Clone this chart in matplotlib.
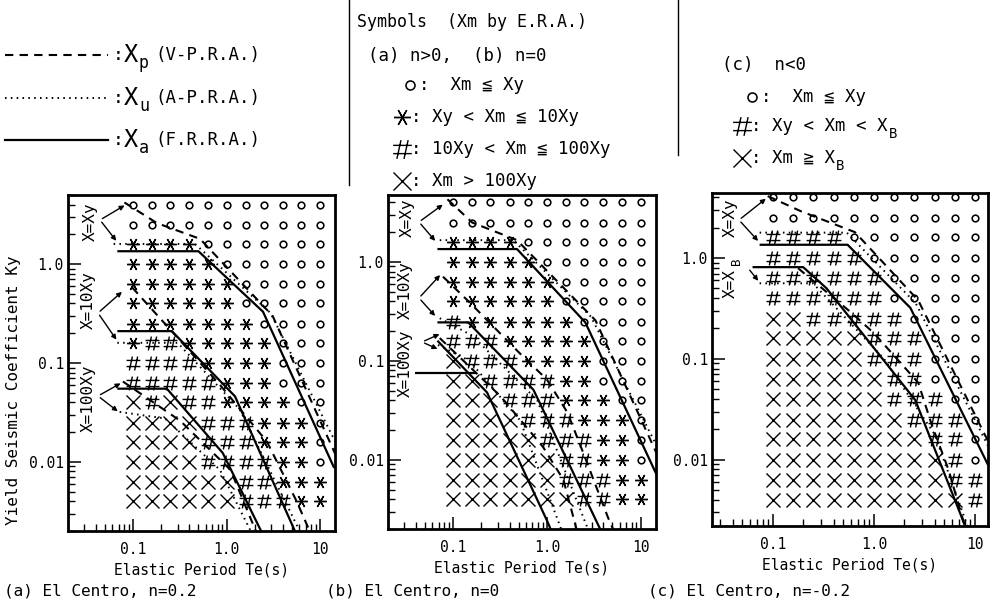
import matplotlib
matplotlib.use("Agg")
import matplotlib.pyplot as plt
from matplotlib.ticker import FixedLocator, FixedFormatter, LogLocator, NullFormatter
from matplotlib.lines import Line2D
from matplotlib.patches import FancyArrowPatch
from matplotlib.path import Path

plt.rcParams['font.family'] = ['DejaVu Sans Mono', 'DejaVu Sans', 'Noto Sans CJK JP']

W, H = 1004, 603

# ---------------- data ----------------
periods = [0.1, 0.16, 0.25, 0.4, 0.63, 1.0, 1.6, 2.5, 4.0, 6.3, 10.0]
ky_levels = [4.0, 2.5, 1.6, 1.0, 0.63, 0.4, 0.25, 0.16, 0.1, 0.063,
             0.04, 0.025, 0.016, 0.01, 0.0063, 0.004]

grid_a = ["ooooooooooo", "ooooooooooo", "****ooooooo", "*****oooooo",
          "******ooooo", "******ooooo", "*******oooo", "*##*****ooo",
          "####****ooo", "#####***ooo", "X#X##****oo", "XXXX###***o",
          "XXXX###***o", "XXXX####**o", "XXXXXX##***", "XXXXXX###**"]
grid_b = ["ooooooooooo", "ooooooooooo", "****ooooooo", "*****oooooo",
          "******ooooo", "******ooooo", "#******oooo", "###*****ooo",
          "X###****ooo", "XX####**ooo", "XXX###***oo", "XXXX###***o",
          "XXXXX###**o", "XXXXXX##**o", "XXXXXX###**", "XXXXXXX##**"]
grid_c = ["ooooooooooo", "ooooooooooo", "####ooooooo", "#####oooooo",
          "######ooooo", "######ooooo", "XX#####oooo", "XXXXX###ooo",
          "XXXXX###ooo", "XXXXXX##ooo", "XXXXXX###oo", "XXXXXXX###o",
          "XXXXXXXX##o", "XXXXXXXXX#o", "XXXXXXXXX##", "XXXXXXXXXX#"]

x_ticks = [0.1, 1.0, 10.0]
x_ticklabels = ['0.1', '1.0', '10']
y_ticks = [1.0, 0.1, 0.01]
y_ticklabels = ['1.0', '0.1', '0.01']

# boundary lines (Te, Ky); p = Xp dashed, u = Xu dotted, a = Xa solid
a_xa_y = [(0.068, 1.35), (0.50, 1.35), (2.45, 0.33), (14.1, 0.0087)]
a_xp_y = [(0.081, 4.2), (0.18, 2.6), (0.52, 1.8), (3.1, 0.30), (14.5, 0.012)]
a_xu_y = [(0.062, 1.6), (0.46, 1.6), (2.95, 0.32), (14.5, 0.016)]
a_xa_10 = [(0.068, 0.21), (0.26, 0.21), (1.23, 0.046), (5.5, 0.0019)]
a_xp_10 = [(0.098, 0.58), (0.30, 0.18), (0.85, 0.060), (2.7, 0.016), (5.6, 0.004), (8.1, 0.0018)]
a_xu_10 = [(0.068, 0.16), (0.30, 0.16), (1.38, 0.034), (6.2, 0.0019)]
a_xa_100 = [(0.068, 0.055), (0.23, 0.055), (0.91, 0.0123), (2.4, 0.0019)]
a_xp_100 = [(0.078, 0.065), (0.32, 0.026), (1.1, 0.0083), (2.1, 0.0019)]
a_xu_100 = [(0.072, 0.032), (0.22, 0.0275), (0.85, 0.0083), (1.86, 0.0019)]

b_xa_y = [(0.068, 1.35), (0.48, 1.35), (2.57, 0.245), (14.8, 0.0071)]
b_xp_y = [(0.087, 4.3), (0.16, 2.5), (0.48, 1.66), (3.3, 0.257), (15.1, 0.0112)]
b_xu_y = [(0.072, 1.66), (0.44, 1.66), (2.95, 0.28), (14.8, 0.014)]
b_xa_10 = [(0.068, 0.245), (0.145, 0.245), (0.72, 0.051), (3.8, 0.0019)]
b_xp_10 = [(0.078, 0.71), (0.15, 0.39), (0.56, 0.11), (1.0, 0.065), (1.66, 0.030),
           (2.45, 0.0117), (4.5, 0.0026), (5.2, 0.0019)]
b_xu_10 = [(0.072, 0.27), (0.16, 0.18), (0.79, 0.04), (2.8, 0.0019)]
b_xa_100 = [(0.068, 0.16), (0.23, 0.048), (1.0, 0.00245), (1.12, 0.0019)]
b_xa_100h = [(0.039, 0.076), (0.178, 0.076)]
b_xp_100 = [(0.072, 0.17), (0.32, 0.044), (0.91, 0.0135), (1.5, 0.0063), (2.1, 0.0019)]
b_xu_100 = [(0.069, 0.145), (0.15, 0.10), (0.52, 0.025), (1.45, 0.0019)]

c_xa_y = [(0.074, 1.35), (0.55, 1.35), (2.3, 0.32), (13.5, 0.0089)]
c_xp_y = [(0.089, 4.1), (0.19, 2.9), (0.65, 1.8), (2.75, 0.38), (14.1, 0.014)]
c_xu_y = [(0.074, 1.78), (0.54, 1.78), (2.6, 0.355), (14.1, 0.0126)]
c_xa_b = [(0.063, 0.81), (0.20, 0.81), (0.34, 0.50), (2.57, 0.039), (7.1, 0.003), (8.3, 0.002)]
c_xp_b = [(0.178, 0.79), (0.59, 0.29), (1.0, 0.18), (2.75, 0.058), (3.7, 0.023),
          (5.5, 0.0079), (8.3, 0.0019)]
c_xu_b = [(0.074, 0.56), (0.25, 0.56), (1.26, 0.10), (4.0, 0.0178), (8.9, 0.0019)]

# ---------------- layout ----------------
def fx(x):
    return x / W


def fy(y):
    return 1 - y / H


panels = [
    dict(box=(68, 195, 335, 531), xlim=(0.0202, 14.4), ylim=(0.002, 5.0), grid=grid_a,
         lines=[('p', a_xp_y), ('u', a_xu_y), ('a', a_xa_y),
                ('p', a_xp_10), ('u', a_xu_10), ('a', a_xa_10),
                ('p', a_xp_100), ('u', a_xu_100), ('a', a_xa_100)],
         caption='(a) El Centro, n=0.2', cap_x=4),
    dict(box=(388, 195, 656, 529), xlim=(0.0202, 14.6), ylim=(0.002, 4.75), grid=grid_b,
         lines=[('p', b_xp_y), ('u', b_xu_y), ('a', b_xa_y),
                ('p', b_xp_10), ('u', b_xu_10), ('a', b_xa_10),
                ('p', b_xp_100), ('u', b_xu_100), ('a', b_xa_100), ('a', b_xa_100h)],
         caption='(b) El Centro, n=0', cap_x=326),
    dict(box=(712, 193, 988, 526), xlim=(0.025, 13.5), ylim=(0.0022, 4.4), grid=grid_c,
         lines=[('p', c_xp_y), ('u', c_xu_y), ('a', c_xa_y),
                ('p', c_xp_b), ('u', c_xu_b), ('a', c_xa_b)],
         caption='(c) El Centro, n=-0.2', cap_x=648),
]

STY = {'p': dict(ls=(0, (4, 3)), lw=1.5),
       'u': dict(ls=(0, (0.8, 2.2)), lw=1.4),
       'a': dict(ls='-', lw=1.6)}

hash_path = Path([(-0.5, 0.22), (0.5, 0.22), (-0.5, -0.22), (0.5, -0.22),
                  (-0.3, -0.5), (-0.08, 0.5), (0.08, -0.5), (0.3, 0.5)],
                 [Path.MOVETO, Path.LINETO] * 4)

MK = {'o': dict(marker='o', ms=4.8, mfc='white', mec='k', mew=1.15),
      '*': dict(marker=(6, 2, 90), ms=9, mec='k', mew=1.0),
      '#': dict(marker=hash_path, ms=10, mec='k', mfc='none', mew=1.0),
      'X': dict(marker='x', ms=9.5, mec='k', mew=1.0)}

fig = plt.figure(figsize=(W / 100, H / 100), dpi=100)
fig.patch.set_facecolor('white')

for p in panels:
    l, t, r, b = p['box']
    ax = fig.add_axes([fx(l), fy(b), (r - l) / W, (b - t) / H])
    ax.set_xscale('log')
    ax.set_yscale('log')
    ax.set_xlim(*p['xlim'])
    ax.set_ylim(*p['ylim'])
    for sym in 'o*#X':
        xs, ys = [], []
        for i, row in enumerate(p['grid']):
            for j, c in enumerate(row):
                if c == sym:
                    xs.append(periods[j])
                    ys.append(ky_levels[i])
        ax.plot(xs, ys, ls='none', color='k', zorder=2, **MK[sym])
    for kind, pts in p['lines']:
        ax.plot([q[0] for q in pts], [q[1] for q in pts], color='k', zorder=3,
                solid_capstyle='butt', **STY[kind])
    ax.xaxis.set_major_locator(FixedLocator(x_ticks))
    ax.xaxis.set_major_formatter(FixedFormatter(x_ticklabels))
    ax.yaxis.set_major_locator(FixedLocator(y_ticks))
    ax.yaxis.set_major_formatter(FixedFormatter(y_ticklabels))
    ax.xaxis.set_minor_locator(LogLocator(base=10, subs=range(2, 10), numticks=20))
    ax.yaxis.set_minor_locator(LogLocator(base=10, subs=range(2, 10), numticks=20))
    ax.xaxis.set_minor_formatter(NullFormatter())
    ax.yaxis.set_minor_formatter(NullFormatter())
    ax.tick_params(which='both', direction='in', top=False, right=False, labelsize=10.5)
    ax.tick_params(which='major', length=9, width=1.1)
    ax.tick_params(which='minor', length=5, width=1.0)
    ax.tick_params(axis='x', pad=8)
    ax.tick_params(axis='y', pad=3)
    for s in ax.spines.values():
        s.set_linewidth(2)
    ax.set_xlabel('Elastic Period Te(s)', fontsize=10.5, labelpad=4)
    fig.text(fx(p['cap_x']), fy(591), p['caption'], fontsize=11.5, ha='left', va='center')

fig.text(fx(14), fy(390), 'Yield Seismic Coefficient Ky', rotation=90, fontsize=11.5,
         ha='center', va='center')

# panel annotations
labels = [((90, 222), 'X=Xy'), ((88, 300), 'X=10Xy'), ((88, 398), 'X=100Xy'),
          ((407, 218), 'X=Xy'), ((405, 290), 'X=10Xy'), ((405, 363), 'X=100Xy'),
          ((730, 218), 'X=Xy'), ((730, 284), 'X=X')]
for (x, y), s in labels:
    fig.text(fx(x), fy(y), s, rotation=90, fontsize=11.5, ha='center', va='center')
fig.text(fx(737), fy(261), 'B', rotation=90, fontsize=9, ha='center', va='center')

arrows = [((100, 220), (127, 204)), ((100, 220), (118, 243)),
          ((98, 313), (124, 290)), ((98, 313), (118, 342)),
          ((98, 396), (123, 382)), ((98, 396), (120, 413)),
          ((419, 222), (445, 203)), ((419, 222), (437, 243)),
          ((419, 298), (442, 273)), ((419, 298), (437, 318)),
          ((422, 342), (442, 333)), ((422, 342), (440, 350)),
          ((739, 220), (768, 197)), ((739, 220), (760, 243)),
          ((748, 268), (760, 283))]
for a0, a1 in arrows:
    fig.add_artist(FancyArrowPatch((fx(a0[0]), fy(a0[1])), (fx(a1[0]), fy(a1[1])),
                                   transform=fig.transFigure, arrowstyle='-|>',
                                   mutation_scale=7, lw=1.0, color='k'))

# separators
fig.add_artist(Line2D([fx(349), fx(349)], [fy(0), fy(185)], transform=fig.transFigure,
                      color='k', lw=1.0))
fig.add_artist(Line2D([fx(678), fx(678)], [fy(0), fy(155)], transform=fig.transFigure,
                      color='k', lw=1.0))

# top-left line legend
leg_rows = [('p', 55, 'p', '(V-P.R.A.)'), ('u', 98, 'u', '(A-P.R.A.)'),
            ('a', 140, 'a', '(F.R.R.A.)')]
for kind, y, sub, desc in leg_rows:
    fig.add_artist(Line2D([fx(5), fx(108)], [fy(y), fy(y)], transform=fig.transFigure,
                          color='k', **STY[kind]))
    fig.text(fx(113), fy(y), ':', fontsize=13, ha='left', va='center')
    fig.text(fx(124), fy(y), 'X', fontsize=17, ha='left', va='center')
    fig.text(fx(139), fy(y + 8), sub, fontsize=12, ha='left', va='center')
    fig.text(fx(155), fy(y), desc, fontsize=12.5, ha='left', va='center')

# symbol legend (a), (b)
fig.text(fx(357), fy(22), 'Symbols  (Xm by E.R.A.)', fontsize=12, ha='left', va='center')
fig.text(fx(368), fy(56), '(a) n>0,  (b) n=0', fontsize=12.5, ha='left', va='center')
sym_rows = [('o', 410, 85, ':  Xm ≦ Xy'),
            ('*', 402, 117, ': Xy < Xm ≦ 10Xy'),
            ('#', 402, 149, ': 10Xy < Xm ≦ 100Xy'),
            ('X', 402, 181, ': Xm > 100Xy')]
for sym, x, y, s in sym_rows:
    st = dict(MK[sym])
    st['ms'] = st['ms'] * 1.35
    fig.add_artist(Line2D([fx(x)], [fy(y)], transform=fig.transFigure, ls='none',
                          color='k', **st))
    fig.text(fx(x + 9), fy(y), s, fontsize=12.5, ha='left', va='center')

# symbol legend (c)
fig.text(fx(722), fy(65), '(c)  n<0', fontsize=12.5, ha='left', va='center')
symc_rows = [('o', 752, 97, ':  Xm ≦ Xy', None),
             ('#', 742, 126, ': Xy < Xm < X', 'B'),
             ('X', 742, 158, ': Xm ≧ X', 'B')]
for sym, x, y, s, sub in symc_rows:
    st = dict(MK[sym])
    st['ms'] = st['ms'] * 1.35
    fig.add_artist(Line2D([fx(x)], [fy(y)], transform=fig.transFigure, ls='none',
                          color='k', **st))
    t = fig.text(fx(x + 9), fy(y), s, fontsize=12.5, ha='left', va='center')
    if sub:
        fig.canvas.draw()
        bb = t.get_window_extent()
        fig.text(bb.x1 / W + 0.001, fy(y + 8), sub, fontsize=10, ha='left', va='center')

fig.savefig('out.png', dpi=100, facecolor='white')
